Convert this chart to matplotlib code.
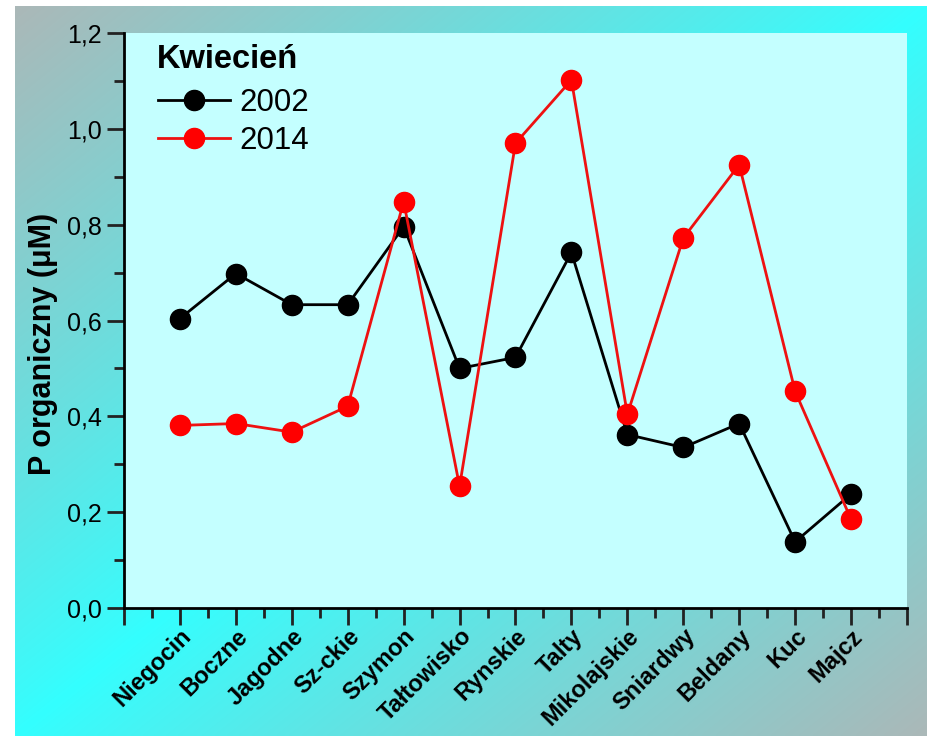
import numpy as np
import matplotlib
matplotlib.use("Agg")
import matplotlib.pyplot as plt
from matplotlib.ticker import MultipleLocator, FixedLocator

plt.rcParams['font.family'] = ['Liberation Sans', 'DejaVu Sans']

lakes = ["Niegocin", "Boczne", "Jagodne", "Sz-ckie", "Szymon", "Tałtowisko",
         "Rynskie", "Talty", "Mikolajskie", "Sniardwy", "Beldany", "Kuc", "Majcz"]
p2002 = [0.604, 0.698, 0.633, 0.633, 0.796, 0.500, 0.523, 0.742, 0.362, 0.335, 0.385, 0.138, 0.238]
p2014 = [0.381, 0.385, 0.367, 0.421, 0.848, 0.254, 0.970, 1.102, 0.404, 0.772, 0.925, 0.452, 0.185]
series_labels = ["2002", "2014"]
legend_title = "Kwiecień"
ylabel = "P organiczny (μM)"

W, H = 928, 736
fig = plt.figure(figsize=(W / 100, H / 100), dpi=100)
fig.patch.set_facecolor('white')

# background gradient panel
bx0, by0 = 15, 6
bg = fig.add_axes([bx0 / W, 0, (W - bx0) / W, (H - by0) / H], zorder=0)
nx, ny = 300, 240
u = np.linspace(0, 1, nx)[None, :]
v = np.linspace(0, 1, ny)[:, None]
t = np.clip(np.abs(u + v - 1.0), 0, 1) ** 0.9
cyan = np.array([0x33, 0xff, 0xff]) / 255
gray = np.array([0xab, 0xb8, 0xb8]) / 255
img = cyan[None, None, :] * (1 - t[..., None]) + gray[None, None, :] * t[..., None]
bg.imshow(img, aspect='auto', extent=[0, 1, 1, 0], interpolation='bilinear')
bg.set_axis_off()

# main axes
l, r, top, bot = 124, 907, 33, 608
aw, ah = r - l, bot - top
ax = fig.add_axes([l / W, (H - bot) / H, aw / W, ah / H], zorder=1)
ax.set_facecolor('#c4ffff')

x = np.arange(1, len(lakes) + 1)
ax.plot(x, p2002, color='black', lw=2, marker='o', ms=14.5, mec='black',
        label=series_labels[0], zorder=3)
ax.plot(x, p2014, color='#ee1111', lw=2, marker='o', ms=14.5, mfc='#ff0000',
        mec='#ff0000', label=series_labels[1], zorder=4)

ax.set_xlim(0, 14)
ax.set_ylim(0, 1.2)
ax.xaxis.set_major_locator(FixedLocator(np.arange(0, 15)))
ax.set_xticklabels([""] + lakes + [""], rotation=45, ha='right',
                   rotation_mode='anchor', fontsize=17, fontweight='bold')
ax.xaxis.set_minor_locator(MultipleLocator(0.5))
ax.yaxis.set_minor_locator(MultipleLocator(0.1))
yt = np.arange(0, 1.21, 0.2)
ax.set_yticks(yt)
ax.set_yticklabels([f"{y:.1f}".replace('.', ',') for y in yt], fontsize=18)

for s in ['top', 'right']:
    ax.spines[s].set_visible(False)
for s in ['left', 'bottom']:
    ax.spines[s].set_linewidth(2)
ax.tick_params(axis='both', which='major', direction='out', length=12, width=2, color='#222222')
ax.tick_params(axis='both', which='minor', direction='out', length=7, width=2, color='#222222')
ax.tick_params(axis='y', which='major', pad=4)
ax.tick_params(axis='x', which='major', pad=0)

ax.set_ylabel(ylabel, fontsize=22, fontweight='bold')
ax.yaxis.set_label_coords((58 - l) / aw, (bot - 344) / ah)

ax.text((157 - l) / aw, (bot - 60) / ah, legend_title, transform=ax.transAxes,
        fontsize=23.5, fontweight='bold', ha='left', va='center')

leg = ax.legend(loc='upper left', bbox_to_anchor=((158 - l) / aw, (bot - 88) / ah),
                frameon=False, fontsize=22.5, handlelength=2.3, handletextpad=0.3,
                labelspacing=0.25, borderpad=0, borderaxespad=0)

fig.savefig("out.png", dpi=100, facecolor=fig.get_facecolor())
